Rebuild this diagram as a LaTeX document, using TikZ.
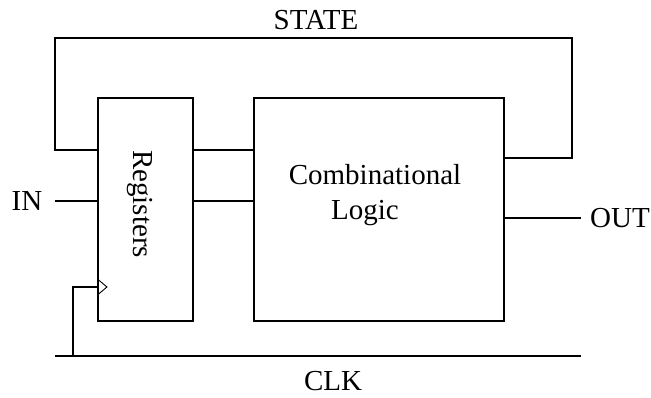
\documentclass[tikz,border=0pt]{standalone}
\usepackage{fontspec}
\setmainfont{Liberation Serif}
\begin{document}
\begin{tikzpicture}[x=1pt,y=-1pt,line width=1.1pt,
  blockbox/.style={draw,rectangle,inner sep=0pt},
  lbl/.style={inner sep=0pt,font=\fontsize{29}{34}\selectfont}]
\useasboundingbox (0,0) rectangle (651,398);
\node[blockbox,minimum width=95pt,minimum height=223pt] (reg) at (145.5,209.5) {};
\node[blockbox,minimum width=250pt,minimum height=223pt] (comb) at (379,209.5) {};
\node[lbl,rotate=-90] (regtxt) at (140,204) {Registers};
\node[lbl] (comb1) at (375,175) {Combinational};
\node[lbl] (comb2) at (365,213) {Logic};
\node[lbl] (state) at (316,20) {STATE};
\node[lbl] (in) at (27,201) {IN};
\node[lbl] (out) at (620,218) {OUT};
\node[lbl] (clk) at (333,381) {CLK};
% coordinates
\coordinate (stL) at (55,150);
\coordinate (stTL) at (55,38);
\coordinate (stTR) at (572,38);
\coordinate (stR) at (572,158);
\coordinate (inL) at (55,201);
\coordinate (outR) at (581,218);
\coordinate (clkL) at (55,356);
\coordinate (clkR) at (581,356);
\coordinate (clkT) at (73,356);
\coordinate (clkC) at (73,287);
% state loop
\draw (reg.west |- stL) -- (stL) -- (stTL) -- (stTR) -- (stR) -- (comb.east |- stR);
% reg to comb
\draw (reg.east |- stL) -- (comb.west |- stL);
\draw (reg.east |- inL) -- (comb.west |- inL);
% in/out
\draw (inL) -- (reg.west |- inL);
\draw (comb.east |- outR) -- (outR);
% clock
\draw (clkL) -- (clkR);
\draw (clkT) -- (clkC) -- (reg.west |- clkC);
\draw[line width=0.9pt] ([yshift=-8pt]reg.west |- clkC) -- ([xshift=9.5pt]reg.west |- clkC) -- ([yshift=8pt]reg.west |- clkC);
\end{tikzpicture}
\end{document}
